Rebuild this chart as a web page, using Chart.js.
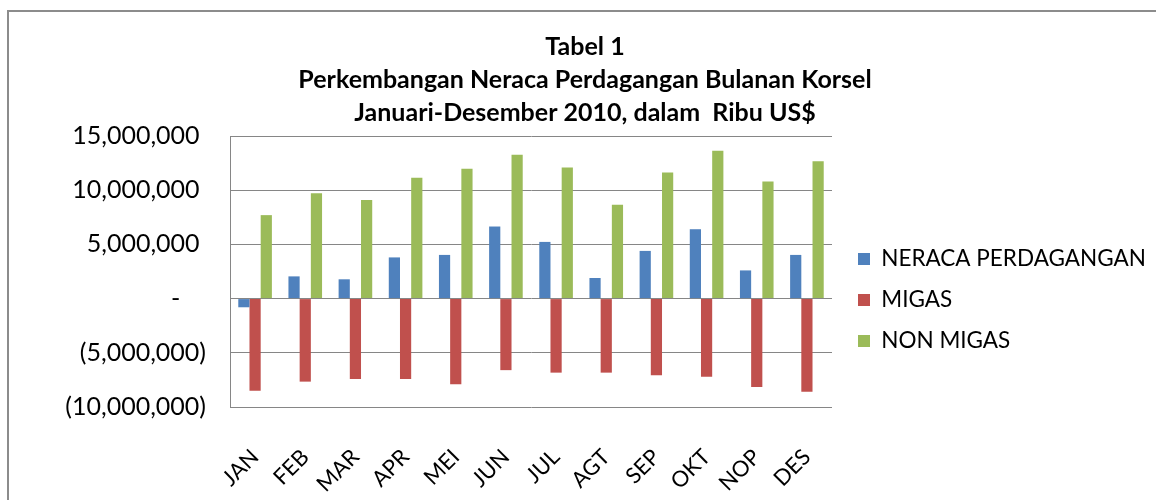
<!DOCTYPE html>
<html>
<head>
<meta charset="utf-8">
<script src="https://cdn.jsdelivr.net/npm/chart.js@4"></script>
<style>
  body { margin: 0; background: #fff; overflow: hidden; }
  #frame { position: absolute; left: 7px; top: 10px; width: 1400px; height: 700px; border: 2px solid #8c8c8c; }
  #wrap { position: absolute; left: 0; top: 0; width: 1156px; height: 500px; }
</style>
</head>
<body>
<div id="frame"></div>
<div id="wrap"><canvas id="chart" width="1156" height="500"></canvas></div>
<script>
const months = ['JAN', 'FEB', 'MAR', 'APR', 'MEI', 'JUN', 'JUL', 'AGT', 'SEP', 'OKT', 'NOP', 'DES'];
const neraca = [-800000, 2050000, 1780000, 3800000, 4030000, 6650000, 5230000, 1900000, 4400000, 6400000, 2600000, 4030000];
const migas = [-8500000, -7660000, -7420000, -7420000, -7900000, -6600000, -6830000, -6830000, -7080000, -7200000, -8150000, -8600000];
const nonMigas = [7700000, 9720000, 9100000, 11140000, 11970000, 13260000, 12100000, 8650000, 11630000, 13630000, 10800000, 12680000];
const titleLines = ['Tabel 1', 'Perkembangan Neraca Perdagangan Bulanan Korsel', 'Januari-Desember 2010, dalam  Ribu US$'];

const font = 'Lato';
const plotLeft = 230;
const plotRight = 832;

// excel accounting style: 0 -> "-", negatives in brackets
function fmt(v) {
  if (v === 0) return '-    ';
  const s = Math.abs(v).toLocaleString('en-US');
  return v < 0 ? '(' + s + ')' : s + ' ';
}

// chart.js caps a side legend at a fraction of the width, so it gets squeezed;
// put it back next to the plot after layout and let it run to the canvas edge
const legendNextToPlot = {
  id: 'legendNextToPlot',
  afterLayout(c) {
    const lg = c.legend;
    lg.left = c.chartArea.right + 7.5;
    lg.right = c.width;
    lg.width = lg.right - lg.left;
  }
};

const ctx = document.getElementById('chart').getContext('2d');
const chart = new Chart(ctx, {
  type: 'bar',
  data: {
    labels: months,
    datasets: [
      { label: 'NERACA PERDAGANGAN', data: neraca, backgroundColor: '#4F81BD' },
      { label: 'MIGAS', data: migas, backgroundColor: '#C0504D' },
      { label: 'NON MIGAS', data: nonMigas, backgroundColor: '#9BBB59' }
    ]
  },
  plugins: [legendNextToPlot],
  options: {
    responsive: false,
    animation: false,
    layout: { padding: { top: 30, left: 14, right: 0, bottom: 0 } },
    datasets: { bar: { categoryPercentage: 0.67, barPercentage: 1.0 } },
    plugins: {
      title: {
        display: true,
        text: titleLines,
        color: '#000',
        font: { family: font, size: 25, weight: 'bold', lineHeight: 1.32 },
        padding: { top: 0, bottom: 7 }
      },
      legend: {
        position: 'right',
        title: { display: true, text: ' ', font: { size: 10 }, padding: { top: 58, bottom: 0 } },
        labels: {
          color: '#000',
          font: { family: font, size: 22.5 },
          boxWidth: 12,
          boxHeight: 12,
          padding: 18.5
        }
      },
      tooltip: { enabled: false }
    },
    scales: {
      x: {
        grid: { display: false },
        border: { display: false },
        afterFit: s => { s.height = 93; },
        ticks: { color: '#000', font: { family: font, size: 22 }, minRotation: 45, maxRotation: 45, padding: 29 }
      },
      y: {
        min: -10000000,
        max: 15000000,
        afterFit: s => { s.width = plotLeft - 14; },
        grid: { color: '#868686', drawTicks: false },
        border: { color: '#868686' },
        ticks: { stepSize: 5000000, color: '#000', font: { family: font, size: 25 }, padding: 24, callback: v => fmt(v) }
      },
      // empty strip that pushes the plot's right edge in
      gap: {
        position: 'right',
        grid: { display: false },
        border: { display: false },
        ticks: { display: false },
        afterFit: s => { s.width = 1156 - plotRight - (1156 - 14) / 6; }
      }
    }
  }
});
</script>
</body>
</html>
